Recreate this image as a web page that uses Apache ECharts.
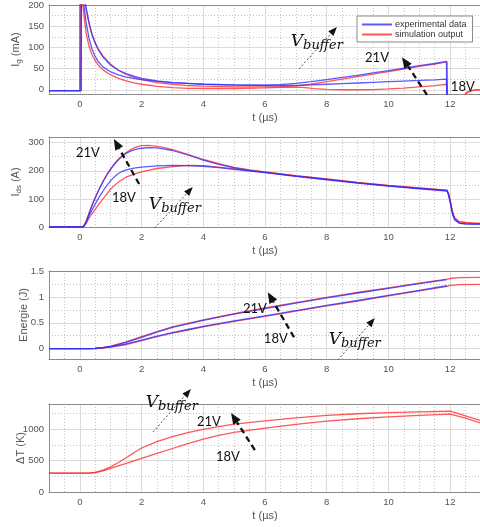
<!DOCTYPE html>
<html><head><meta charset="utf-8">
<script src="https://cdn.jsdelivr.net/npm/echarts@6/dist/echarts.min.js"></script>
<style>html,body{margin:0;padding:0;background:#fff}#c{width:480px;height:527px}</style>
</head><body><div id="c"></div><script>
// ---------- tick labels ----------
const xTicks = [0, 2, 4, 6, 8, 10, 12];
const igTicks = [0, 50, 100, 150, 200];
const idsTicks = [0, 100, 200, 300];
const enTicks = [0, 0.5, 1, 1.5];
const dtTicks = [0, 500, 1000];

// ---------- Ig (mA) ----------
const igSim18 = [[-1,-2],[0,-2],[0.005,260],[0.1,195],[0.2,135],[0.3,102],[0.4,82],[0.5,68],[0.6,58],[0.75,47],[1,35],[1.25,27],[1.5,21],[1.75,16],[2,13],[2.5,8],[3,5],[3.5,3.5],[4,3],[5,3],[6,4.5],[6.5,5.5],[7,6],[7.3,5],[7.6,2.5],[8,1],[8.5,0],[9,0],[9.5,0.5],[10,2],[10.5,4],[11,7],[11.5,10],[11.9,13],[11.92,-60],[12.35,-60],[12.45,-14],[12.55,-6],[12.7,-2],[12.85,-0.5],[13,0]];
const igSim21 = [[-1,-2],[0,-2],[0.005,260],[0.1,235],[0.2,190],[0.3,155],[0.4,128],[0.5,110],[0.6,96],[0.75,80],[1,60],[1.25,46],[1.5,36],[1.75,29],[2,24],[2.5,17],[3,13],[3.5,10],[4,8.5],[5,7],[6,7],[6.5,7.5],[7,9],[7.5,13],[8,19],[8.5,25],[9,31],[9.5,37],[10,43],[10.5,49],[11,55],[11.5,60.5],[11.9,66],[11.92,-60],[12.35,-60],[12.45,-14],[12.55,-6],[12.7,-2],[12.85,-0.5],[13,0]];
const igExp21 = [[-1,-2],[0.04,-2],[0.05,260],[0.1,240],[0.2,195],[0.3,158],[0.4,130],[0.5,110],[0.6,94],[0.75,77],[1,58],[1.25,46],[1.5,38],[1.75,32],[2,27],[2.5,21],[3,17],[3.5,15],[4,13],[5,11],[6,11],[6.5,12],[7,15],[7.5,19],[8,24],[8.5,29],[9,34],[9.5,40],[10,45],[10.5,51],[11,57],[11.5,62],[11.88,67],[11.9,-60],[13,-60]];
const igExp18 = [[-1,-2],[0.04,-2],[0.05,260],[0.1,215],[0.2,160],[0.3,120],[0.4,95],[0.5,78],[0.6,66],[0.75,54],[1,42],[1.25,35],[1.5,30],[1.75,27],[2,24],[2.5,20],[3,17],[3.5,15],[4,13.5],[5,11.5],[6,10],[6.5,10],[7,10.5],[7.5,11.5],[8,13],[8.5,14.5],[9,16],[9.5,17.5],[10,19],[10.5,20.5],[11,22],[11.5,23.5],[11.88,25],[11.9,-60],[13,-60]];

// ---------- Ids (A) ----------
const idsSim21 = [[-1,0],[0.1,0],[0.2,20],[0.3,50],[0.4,80],[0.5,105],[0.625,135],[0.75,162],[0.875,186],[1,207],[1.125,225],[1.25,241],[1.375,254],[1.5,265],[1.625,274],[1.75,281],[1.875,286],[2,289],[2.25,290],[2.5,287],[2.75,282],[3,275],[3.5,258],[4,240],[4.5,225],[5,212],[5.5,203],[6,196],[7,183],[8,171],[9,159],[10,148],[11,139],[11.9,131],[11.95,118],[12,95],[12.05,68],[12.1,45],[12.15,32],[12.2,25],[12.3,19],[12.5,16],[12.75,14],[13,13]];
const idsExp21 = [[-1,0],[0.12,0],[0.2,18],[0.3,48],[0.4,78],[0.5,104],[0.625,134],[0.75,161],[0.875,185],[1,206],[1.125,224],[1.25,239],[1.375,252],[1.5,262],[1.625,269],[1.75,274],[1.875,278],[2,280],[2.25,282],[2.5,281],[2.75,277],[3,272],[3.5,256],[4,238],[4.5,223],[5,210],[5.5,201],[6,194],[7,181],[8,169],[9,157],[10,146],[11,137],[11.9,129],[11.95,115],[12,90],[12.05,62],[12.1,40],[12.15,26],[12.2,19],[12.3,14],[12.5,11],[12.75,10],[13,10]];
const idsExp18 = [[-1,0],[0.12,0],[0.2,15],[0.3,40],[0.4,62],[0.5,82],[0.625,106],[0.75,128],[0.875,148],[1,165],[1.125,179],[1.25,190],[1.375,198],[1.5,203],[1.75,209],[2,213],[2.5,217],[3,219],[3.5,218],[4,216],[4.5,211],[5,205],[5.5,199],[6,193],[7,180],[8,168],[9,156],[10,145],[11,136],[11.9,128],[11.95,114],[12,89],[12.05,61],[12.1,39],[12.15,25],[12.2,18],[12.3,13],[12.5,11],[12.75,10],[13,10]];
const idsSim18 = [[-1,0],[0.1,0],[0.2,12],[0.3,32],[0.4,48],[0.5,63],[0.625,82],[0.75,100],[0.875,118],[1,135],[1.125,148],[1.25,160],[1.375,169],[1.5,177],[1.75,188],[2,196],[2.5,208],[3,215],[3.5,219],[4,218],[4.5,213],[5,207],[5.5,201],[6,195],[7,182],[8,170],[9,158],[10,147],[11,138],[11.9,130],[11.95,117],[12,93],[12.05,66],[12.1,44],[12.15,31],[12.2,24],[12.3,18],[12.5,15],[12.75,14],[13,13]];

// ---------- Energie (J) ----------
const enSim21 = [[-1,0],[0.3,0],[0.5,0.006],[0.75,0.022],[1,0.05],[1.5,0.13],[2,0.23],[2.5,0.33],[3,0.42],[3.5,0.49],[4,0.555],[5,0.675],[6,0.785],[7,0.89],[8,0.99],[9,1.085],[10,1.175],[11,1.265],[11.9,1.345],[12,1.355],[12.3,1.372],[13,1.378]];
const enExp21 = [[-1,0],[0.3,0],[0.5,0.006],[0.75,0.02],[1,0.045],[1.5,0.12],[2,0.22],[2.5,0.32],[3,0.41],[3.5,0.48],[4,0.545],[5,0.665],[6,0.775],[7,0.88],[8,0.98],[9,1.075],[10,1.165],[11,1.255],[11.9,1.335]];
const enExp18 = [[-1,0],[0.3,0],[0.5,0.004],[0.75,0.016],[1,0.035],[1.5,0.09],[2,0.165],[2.5,0.24],[3,0.31],[3.5,0.37],[4,0.43],[5,0.535],[6,0.635],[7,0.735],[8,0.835],[9,0.93],[10,1.03],[11,1.125],[11.9,1.215]];
const enSim18 = [[-1,0],[0.3,0],[0.5,0.003],[0.75,0.013],[1,0.03],[1.5,0.08],[2,0.155],[2.5,0.23],[3,0.3],[3.5,0.36],[4,0.42],[5,0.525],[6,0.625],[7,0.725],[8,0.825],[9,0.92],[10,1.02],[11,1.115],[11.9,1.205],[12,1.222],[12.3,1.236],[13,1.24]];

// ---------- Delta T (K) ----------
const dtSim21 = [[-1,300],[0.25,300],[0.5,312],[0.75,348],[1,400],[1.25,470],[1.5,545],[1.75,625],[2,700],[2.5,800],[3,880],[3.5,945],[4,995],[4.5,1040],[5,1080],[6,1130],[7,1180],[8,1220],[9,1245],[10,1262],[11,1275],[12,1285],[12.5,1210],[13,1135]];
const dtSim18 = [[-1,300],[0.3,300],[0.5,310],[0.75,335],[1,375],[1.5,455],[2,535],[2.5,615],[3,692],[3.5,770],[4,840],[4.5,900],[5,950],[6,1015],[7,1075],[8,1127],[9,1165],[10,1195],[11,1220],[12,1238],[12.5,1175],[13,1095]];

// ---------- annotations (data coordinates of each panel) ----------
const annIg  = {texts:[['V',7.68,113],['21V',9.63,75],['18V',12.41,7]], dashed:[[11.25,-12,10.44,77]], dotted:[[7.1,49,8.33,148]]};
const annIds = {texts:[['21V',0.26,263],['18V',1.43,103],['V',3.08,78]], dashed:[[1.92,153,1.1,313]], dotted:[[2.43,-3,3.66,142]]};
const annEn  = {texts:[['21V',5.67,0.765],['18V',6.35,0.185],['V',8.91,0.166]], dashed:[[6.94,0.22,6.09,1.09]], dotted:[[8.36,-0.22,9.56,0.59]]};
const annDt  = {texts:[['V',2.98,1416],['21V',4.18,1114],['18V',4.8,557]], dashed:[[5.67,668,4.9,1257]], dotted:[[2.37,955,3.6,1639]]};

// ---------- styling / layout ----------
const BLUE = 'rgba(45,45,255,0.78)';
const RED = 'rgba(255,45,45,0.8)';
const FONT = 'Liberation Sans, Arial, sans-serif';
const MAJOR = '#dcdcdc', MINOR = '#c4c4c4', FRAME = '#8a8a8a', TXT = '#555';
const TR = 'rgba(0,0,0,0)';
const TICKFS = 9.5;

const panels = [
  {top:5,   h:89, min:-10,  max:200,  step:5,    minor:25,   ticks:igTicks,  name:'I{s|g} (mA)',   gap:26,
   series:[['simulation output',igSim18,RED],['simulation output',igSim21,RED],['experimental data',igExp21,BLUE],['experimental data',igExp18,BLUE]], ann:annIg},
  {top:137, h:90, min:0,    max:320,  step:10,   minor:50,   ticks:idsTicks, name:'I{s|ds} (A)',   gap:26,
   series:[['simulation output',idsSim21,RED],['simulation output',idsSim18,RED],['experimental data',idsExp21,BLUE],['experimental data',idsExp18,BLUE]], ann:annIds},
  {top:271, h:88, min:-0.2, max:1.5,  step:0.05, minor:0.25, ticks:enTicks,  name:'Energie (J)',   gap:20,
   series:[['simulation output',enSim21,RED],['simulation output',enSim18,RED],['experimental data',enExp21,BLUE],['experimental data',enExp18,BLUE]], ann:annEn},
  {top:404, h:88, min:0,    max:1400, step:50,   minor:250,  ticks:dtTicks,  name:'\u0394T (K)',   gap:23,
   series:[['simulation output',dtSim21,RED],['simulation output',dtSim18,RED]], ann:annDt}
];

function stepValues(min, max, step) {
  const n = Math.round((max - min) / step), a = [];
  for (let k = 0; k <= n; k++) a.push(min + k * step);
  return a;
}
const near = (a, b) => Math.abs(a - b) < 1e-6;
const isMult = (v, m) => { const q = v / m; return Math.abs(q - Math.round(q)) < 1e-6; };
const inTicks = (ticks, v) => ticks.some(t => near(t, v));
const fmt = v => String(parseFloat(Number(v).toFixed(3)));

const XMIN = -1, XMAX = 13, XSTEP = 0.5, XMINOR = 0.5;
const xMajorColors = stepValues(XMIN, XMAX, XSTEP).map(v => inTicks(xTicks, v) ? MAJOR : TR);
const xMinorColors = stepValues(XMIN, XMAX, XSTEP).map(v => (isMult(v, XMINOR) && !inTicks(xTicks, v)) ? MINOR : TR);

const grid = [], xAxis = [], yAxis = [], series = [];
panels.forEach((p, i) => {
  grid.push({left:49, width:432, top:p.top, height:p.h, containLabel:false, outerBoundsMode:'none'});
  xAxis.push({
    type:'value', gridIndex:i, min:XMIN, max:XMAX, interval:XSTEP, position:'bottom',
    axisLine:{show:true, onZero:false, lineStyle:{color:FRAME, width:1}},
    axisTick:{show:false},
    axisLabel:{color:TXT, fontSize:TICKFS, fontFamily:FONT, margin:5, formatter:v => inTicks(xTicks, v) ? fmt(v) : ''},
    splitLine:{show:true, lineStyle:{color:xMajorColors, width:1, type:'solid'}},
    name:'t (\u00b5s)', nameLocation:'middle', nameGap:18, nameMoveOverlap:false,
    nameTextStyle:{color:TXT, fontSize:11, fontFamily:FONT}
  });
  xAxis.push({
    type:'value', gridIndex:i, min:XMIN, max:XMAX, interval:XSTEP, position:'top',
    axisLine:{show:true, onZero:false, lineStyle:{color:FRAME, width:1}},
    axisTick:{show:false}, axisLabel:{show:false},
    splitLine:{show:true, lineStyle:{color:xMinorColors, width:1, type:[1,2]}}
  });
  const yv = stepValues(p.min, p.max, p.step);
  yAxis.push({
    type:'value', gridIndex:i, min:p.min, max:p.max, interval:p.step, position:'left',
    axisLine:{show:true, onZero:false, lineStyle:{color:FRAME, width:1}},
    axisTick:{show:false},
    axisLabel:{color:TXT, fontSize:TICKFS, fontFamily:FONT, margin:5, formatter:v => inTicks(p.ticks, v) ? fmt(v) : ''},
    splitLine:{show:true, lineStyle:{color:yv.map(v => inTicks(p.ticks, v) ? MAJOR : TR), width:1, type:'solid'}},
    name:p.name, nameLocation:'middle', nameGap:p.gap, nameRotate:90, nameMoveOverlap:false,
    nameTextStyle:{color:TXT, fontSize:11, fontFamily:FONT,
      rich:{s:{fontSize:8, color:TXT, fontFamily:FONT, padding:[6,0,0,0]}}}
  });
  yAxis.push({
    type:'value', gridIndex:i, min:p.min, max:p.max, interval:p.step, position:'right',
    axisLine:{show:false}, axisTick:{show:false}, axisLabel:{show:false},
    splitLine:{show:true, lineStyle:{color:yv.map(v => (isMult(v, p.minor) && !inTicks(p.ticks, v)) ? MINOR : TR), width:1, type:[1,2]}}
  });
  p.series.forEach(s => {
    series.push({
      type:'line', name:s[0], data:s[1], xAxisIndex:2*i, yAxisIndex:2*i,
      showSymbol:false, symbol:'none', smooth:false, clip:true, animation:false,
      color:s[2], lineStyle:{color:s[2], width:1.3}, emphasis:{disabled:true}
    });
  });
});

const chart = echarts.init(document.getElementById('c'), null, {renderer:'canvas'});
chart.setOption({
  animation:false,
  backgroundColor:'#fff',
  textStyle:{fontFamily:FONT},
  grid, xAxis, yAxis, series,
  legend:{
    data:['experimental data','simulation output'], left:357, top:16, orient:'vertical',
    icon:'rect', itemWidth:30, itemHeight:2, itemGap:1, padding:[4,6,3,5],
    backgroundColor:'#fff', borderColor:'#8a8a8a', borderWidth:1, borderRadius:0,
    textStyle:{fontSize:9, color:'#333', fontFamily:FONT, padding:[0,0,0,-2]},
    selectedMode:false
  }
});

// ---------- annotations: data coordinates converted by the chart's own scales ----------
const graphic = [];
function arrow(i, d, st) {
  const a = chart.convertToPixel({gridIndex:i}, [d[0], d[1]]);
  const b = chart.convertToPixel({gridIndex:i}, [d[2], d[3]]);
  const dx = b[0] - a[0], dy = b[1] - a[1], len = Math.hypot(dx, dy);
  const ux = dx / len, uy = dy / len, px = -uy, py = ux;
  const bx = b[0] - ux * st.head, by = b[1] - uy * st.head;
  graphic.push({type:'line', z:100, silent:true, shape:{x1:a[0], y1:a[1], x2:bx, y2:by},
    style:{stroke:st.color, lineWidth:st.width, lineDash:st.dash}});
  graphic.push({type:'polygon', z:101, silent:true,
    shape:{points:[[b[0], b[1]], [bx + px * st.half, by + py * st.half], [bx - px * st.half, by - py * st.half]]},
    style:{fill:'#111'}});
}
const DASHED = {color:'#111', width:2.3, dash:[6,4], head:11, half:4.5};
const DOTTED = {color:'#555', width:1, dash:[2,2], head:9, half:3.5};
panels.forEach((p, i) => {
  p.ann.dashed.forEach(d => arrow(i, d, DASHED));
  p.ann.dotted.forEach(d => arrow(i, d, DOTTED));
  p.ann.texts.forEach(t => {
    const q = chart.convertToPixel({gridIndex:i}, [t[1], t[2]]);
    if (t[0] === 'V') {
      graphic.push({type:'text', z:102, silent:true, x:q[0], y:q[1],
        style:{text:'{v|V}{s|buffer}', align:'center', verticalAlign:'middle', fill:'#111',
          rich:{v:{fontSize:17, fontStyle:'italic', fontFamily:'DejaVu Serif, serif', fill:'#111', color:'#111'},
                s:{fontSize:13, fontStyle:'italic', fontFamily:'DejaVu Serif, serif', fill:'#111', color:'#111', padding:[7,0,0,0]}}}});
    } else {
      graphic.push({type:'text', z:102, silent:true, x:q[0], y:q[1],
        style:{text:t[0], align:'center', verticalAlign:'middle', fill:'#111',
          fontSize:13, fontFamily:'Lato, Liberation Sans, sans-serif'}});
    }
  });
});
chart.setOption({graphic});
</script></body></html>
